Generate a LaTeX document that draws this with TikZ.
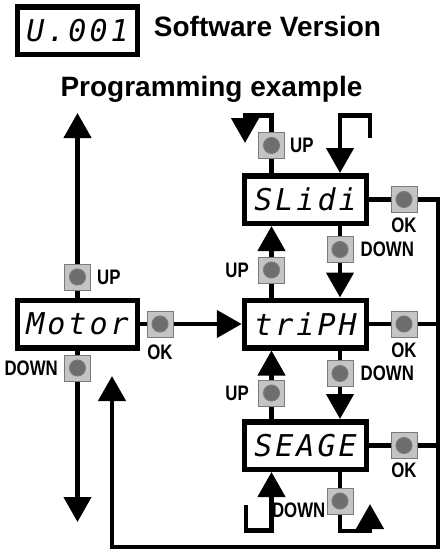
\documentclass[tikz,border=0pt]{standalone}
\usepackage{fontspec}
\setmainfont{Liberation Sans}
\newfontfamily\segfont[LetterSpace=10]{DejaVu Sans Mono}
\newfontfamily\keyfont[FakeStretch=0.8]{Liberation Sans}
\usetikzlibrary{positioning}
\usetikzlibrary{arrows.meta}
\definecolor{keyface}{HTML}{C4C4C4}
\definecolor{keyedge}{HTML}{7A7A7A}
\definecolor{keydot}{HTML}{6E6E6E}

\begin{document}
\begin{tikzpicture}[x=1pt,y=-1pt,
  display/.style={draw,line width=5.5pt,fill=white,inner sep=0pt,minimum width=120pt,minimum height=47.5pt,font=\fontsize{30}{30}\segfont\itshape},
  button/.style={draw=keyedge,line width=1pt,fill=keyface,minimum size=26pt,inner sep=0pt,
    path picture={\draw[line width=1pt,fill=keydot] (path picture bounding box.center) circle (8pt);}},
  keylabel/.style={inner sep=0pt,font=\fontsize{21}{21}\keyfont\bfseries},
  title/.style={anchor=base,font=\fontsize{28}{28}\selectfont\bfseries},
  wire/.style={line width=4.5pt},
  flow/.style={wire,-{Triangle[length=25pt,width=27pt]}}]
  \useasboundingbox (0,0) rectangle (444,549);

  \node[display] (ver) at (77.5,30.5) {U.001};
  \node[title] (swver) at (267.5,36) {Software Version};
  \node[title] (progex) at (211.5,96) {Programming example};

  % displays
  \node[display] (motor) at (77.5,324) {Motor};
  \node[display,minimum width=122pt] (slidi) at (305.5,199.5) {SLidi};
  \node[display,minimum width=122pt] (triph) at (305.5,324) {triPH};
  \node[display,minimum width=122pt] (seage) at (305.5,445.5) {SEAGE};

  % keys
  \node[button] (mup) at (77.5,277) {};
  \node[button] (mdown) at (77.5,368) {};
  \node[button] (mok) at (160,324) {};
  \node[button] (sliup) at (271.5,145.5) {};
  \node[button] (slidown) at (340,249.5) {};
  \node[button] (sliok) at (404,199.5) {};
  \node[button] (triup) at (271.5,270) {};
  \node[button] (tridown) at (340,373.5) {};
  \node[button] (triok) at (404,324) {};
  \node[button] (seaup) at (271.5,393) {};
  \node[button] (seadown) at (340,501) {};
  \node[button] (seaok) at (404,445.5) {};

  \node[keylabel,right=6pt of mup] (mupl) {UP};
  \node[keylabel,left=6pt of mdown] (mdownl) {DOWN};
  \node[keylabel,below=7pt of mok] (mokl) {OK};
  \node[keylabel,right=5pt of sliup] (sliupl) {UP};
  \node[keylabel,right=7pt of slidown] (slidownl) {DOWN};
  \node[keylabel,below=5pt of sliok] (slidokl) {OK};
  \node[keylabel,left=9pt of triup] (triupl) {UP};
  \node[keylabel,right=7pt of tridown] (tridownl) {DOWN};
  \node[keylabel,below=5pt of triok] (triokl) {OK};
  \node[keylabel,left=9pt of seaup] (seaupl) {UP};
  \node[keylabel,left=1pt of seadown,yshift=-9pt] (seadownl) {DOWN};
  \node[keylabel,below=4pt of seaok] (seaokl) {OK};

  \coordinate (mtop) at (77.5,113);
  \coordinate (mbot) at (77.5,522);
  \coordinate (lcorner) at (245,115.5);
  \coordinate (lend) at (245,143);
  \coordinate (rstart) at (370,138);
  \coordinate (rcorner) at (340,115.5);
  \coordinate (cbr) at (438,547);
  \coordinate (ret) at (112,376);
  \coordinate (blstart) at (246,505);
  \coordinate (blcorner) at (271.5,530.5);
  \coordinate (brcorner) at (370,531);
  \coordinate (brend) at (370,504);

  % Motor
  \draw[wire] (motor) -- (mup) (motor) -- (mdown) (motor) -- (mok);
  \draw[flow] (mup) -- (mtop);
  \draw[flow] (mdown) -- (mbot);
  \draw[flow] (mok) -- (triph);

  % up / down between the displays
  \draw[wire] (slidi.north -| sliup) -- (sliup);
  \draw[flow] (sliup) |- (lcorner) -- (lend);
  \draw[flow] (rstart) |- (rcorner) -- (rcorner |- slidi.north);
  \draw[wire] (slidi.south -| slidown) -- (slidown);
  \draw[flow] (slidown) -- (slidown |- triph.north);
  \draw[wire] (triph.north -| triup) -- (triup);
  \draw[flow] (triup) -- (triup |- slidi.south);
  \draw[wire] (triph.south -| tridown) -- (tridown);
  \draw[flow] (tridown) -- (tridown |- seage.north);
  \draw[wire] (seage.north -| seaup) -- (seaup);
  \draw[flow] (seaup) -- (seaup |- triph.south);
  \draw[wire] (seage.south -| seadown) -- (seadown);
  \draw[flow] (seadown) |- (brcorner) -- (brend);
  \draw[flow] (blstart) |- (blcorner) -- (blcorner |- seage.south);

  % OK back to Motor
  \draw[wire] (slidi) -- (sliok) (triph) -- (triok) (seage) -- (seaok);
  \draw[wire] (triok) -- (triok -| cbr) (seaok) -- (seaok -| cbr);
  \draw[flow] (sliok) -| (cbr) -| (ret);
\end{tikzpicture}
\end{document}
